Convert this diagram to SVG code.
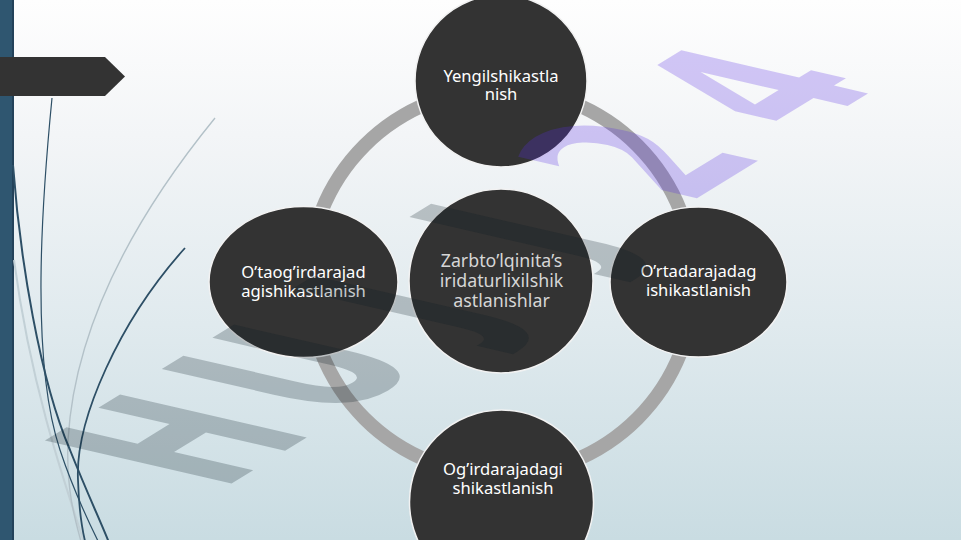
<svg xmlns="http://www.w3.org/2000/svg" width="961" height="540" viewBox="0 0 961 540">
<defs>
<linearGradient id="bg" x1="0" y1="0" x2="0" y2="1">
<stop offset="0" stop-color="#fefefe"/>
<stop offset="0.25" stop-color="#f3f5f7"/>
<stop offset="0.6" stop-color="#e0eaee"/>
<stop offset="1" stop-color="#c9dce2"/>
</linearGradient>
<style>
.node{fill:#333333;stroke:#f2f2f2;stroke-width:1.5}
.lbl{font-family:"Noto Sans","Open Sans","DejaVu Sans",sans-serif;font-size:16.6px;fill:#ffffff;text-anchor:middle}
.ctr{font-size:17.8px;fill:#d6d6d6}
.wm{font-family:"DejaVu Sans","Liberation Sans",sans-serif;font-weight:bold;font-size:100px}
.wg{fill:#0a1a24;fill-opacity:0.23}
.wp{fill:#5830e4;fill-opacity:0.26}
.curve{fill:none}
</style>
</defs>
<rect x="0" y="0" width="961" height="540" fill="url(#bg)"/>
<rect x="0" y="0" width="12" height="540" fill="#2f5670"/>
<rect x="12" y="0" width="2" height="540" fill="#23425a"/>
<g id="decor-curves" class="curve">
<path d="M14 260 C30 380 60 470 85 545" stroke="#c2d0d6" stroke-width="2"/>
<path d="M215 118 C140 210 75 320 68 440 C66 490 75 520 82 545" stroke="#b3c1c8" stroke-width="1.4"/>
<path d="M52 98 C42 200 30 360 60 450 C75 495 90 525 100 545" stroke="#2d4f66" stroke-width="1.2"/>
<path d="M13 165 C20 260 40 380 70 450 C88 495 100 520 110 545" stroke="#2d4f66" stroke-width="2"/>
<path d="M185 248 C120 320 75 420 78 480 C79 510 82 530 86 545" stroke="#2d4f66" stroke-width="1.8"/>
</g>
<polygon id="title-arrow" points="0,57 105,57 125,76.5 105,96 0,96" fill="#333333"/>
<g id="connectors">
<circle cx="501" cy="282" r="193" fill="none" stroke="#a6a6a6" stroke-width="14"/>
</g>
<g id="node-top">
<circle class="node" cx="501" cy="81" r="86"/>
<text class="lbl"><tspan x="501" y="82">Yengilshikastla</tspan><tspan x="501" y="100">nish</tspan></text>
</g>
<g id="node-left">
<ellipse class="node" cx="303.5" cy="282" rx="94.5" ry="75.5"/>
<text class="lbl"><tspan x="303.5" y="278">O’taog’irdarajad</tspan><tspan x="303.5" y="297">agishikastlanish</tspan></text>
</g>
<g id="node-right">
<ellipse class="node" cx="698.5" cy="282" rx="88.5" ry="75"/>
<text class="lbl"><tspan x="698.5" y="277">O’rtadarajadag</tspan><tspan x="698.5" y="296">ishikastlanish</tspan></text>
</g>
<g id="node-bottom">
<circle class="node" cx="501.5" cy="502" r="92"/>
<text class="lbl"><tspan x="503" y="475">Og’irdarajadagi</tspan><tspan x="503" y="494">shikastlanish</tspan></text>
</g>
<g id="node-center">
<circle class="node" cx="501" cy="281" r="92"/>
<text class="lbl ctr"><tspan x="501.5" y="267">Zarbto’lqinita’s</tspan><tspan x="501.5" y="287">iridaturlixilshik</tspan><tspan x="501.5" y="306.5">astlanishlar</tspan></text>
</g>
<g id="watermark" class="wm" transform="matrix(1.15,-0.705,2.56,0.59,221,490)">
<text class="wg" x="0" y="0">H</text>
<text class="wg" x="101.6" y="0">U</text>
<text class="wg" x="215" y="0">J</text>
<text class="wg" x="317" y="0">J</text>
<text class="wp" x="406" y="0">2</text>
<text class="wp" x="508" y="0">4</text>
</g>
</svg>
